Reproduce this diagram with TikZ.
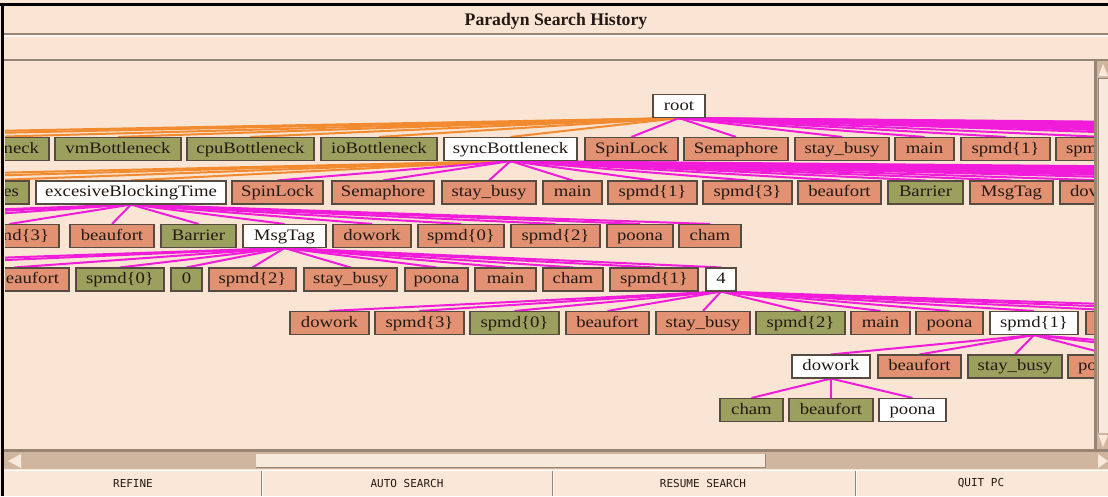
\documentclass[tikz,border=0pt]{standalone}
\usepackage{fontspec}
\setmainfont{Liberation Serif}
\newfontfamily\labelfont[FakeStretch=1.17]{Liberation Serif}
\newfontfamily\buttonfont{DejaVu Sans Mono}

\pgfdeclarelayer{backdrop}
\pgfdeclarelayer{links}
\pgfsetlayers{backdrop,links,main}

\definecolor{panel}{RGB}{250,229,212}
\definecolor{buttonface}{RGB}{250,231,216}
\definecolor{trough}{RGB}{208,182,158}
\definecolor{slider}{RGB}{248,233,221}
\definecolor{bevel}{RGB}{150,132,116}
\definecolor{salmon}{RGB}{226,146,114}
\definecolor{olive}{RGB}{155,160,95}
\definecolor{boxline}{RGB}{85,75,65}
\definecolor{ink}{RGB}{35,25,20}
\definecolor{whyline}{RGB}{242,138,48}
\definecolor{whereline}{RGB}{240,28,218}

\tikzset{
  x=1pt, y=-1pt,
  shnode/.style={draw=boxline, line width=1.1pt, minimum height=23pt, inner sep=0pt,
    text height=11.5pt, text depth=3.5pt, text=ink,
    font=\labelfont\fontsize{16}{18}\selectfont},
  falsebox/.style={shnode, fill=olive},
  openbox/.style={shnode, fill=salmon},
  truebox/.style={shnode, fill=white},
  where/.style={draw=whereline, line width=2pt},
  why/.style={draw=whyline, line width=2pt},
  btnlabel/.style={font=\buttonfont\fontsize{11}{13}\selectfont, text=ink, inner sep=0pt},
}

% node from left edge x1 to right edge x2, centred on row y
\newcommand\hnode[6]{\node[#2, minimum width={(#4)-(#3)}] (#1) at ({((#3)+(#4))/2},#5) {#6};}

\begin{document}
\begin{tikzpicture}
\useasboundingbox (0,0) rectangle (1108,496);

\begin{pgfonlayer}{backdrop}
  \fill[panel] (0,0) rectangle (1108,496);
\end{pgfonlayer}

% ---------------- search history graph ----------------
\begin{scope}
\clip (5,62) rectangle (1095,449);

\hnode{root}{truebox}{653}{705}{106}{root}

% row 1
\node[falsebox, minimum width=119pt, text width=99pt, align=right] (r1neck) at (-10.5,149) {neck};
\hnode{r1vm}{falsebox}{55}{181}{149}{vmBottleneck}
\hnode{r1cpu}{falsebox}{187}{314}{149}{cpuBottleneck}
\hnode{r1io}{falsebox}{321}{437}{149}{ioBottleneck}
\hnode{r1sync}{truebox}{444}{577}{149}{syncBottleneck}
\hnode{r1spin}{openbox}{585}{678}{149}{SpinLock}
\hnode{r1sema}{openbox}{684}{788}{149}{Semaphore}
\hnode{r1stay}{openbox}{795}{889}{149}{stay\_busy}
\hnode{r1main}{openbox}{895}{954}{149}{main}
\hnode{r1spmd}{openbox}{961}{1050}{149}{spmd\{1\}}
\node[openbox, minimum width=94pt, text width=74pt, align=left] (r1spm) at (1103,149) {spm};

% row 2
\node[falsebox, minimum width=89pt, text width=69pt, align=right] (r2es) at (-15.5,192.5) {es};
\hnode{r2ebt}{truebox}{36}{226}{192.5}{excesiveBlockingTime}
\hnode{r2spin}{openbox}{232}{323}{192.5}{SpinLock}
\hnode{r2sema}{openbox}{332}{434}{192.5}{Semaphore}
\hnode{r2stay}{openbox}{442}{536}{192.5}{stay\_busy}
\hnode{r2main}{openbox}{543}{602}{192.5}{main}
\hnode{r2spmdA}{openbox}{608}{697}{192.5}{spmd\{1\}}
\hnode{r2spmdC}{openbox}{703}{792}{192.5}{spmd\{3\}}
\hnode{r2beau}{openbox}{798}{881}{192.5}{beaufort}
\hnode{r2barr}{falsebox}{888}{963}{192.5}{Barrier}
\hnode{r2msg}{openbox}{970}{1053}{192.5}{MsgTag}
\node[openbox, minimum width=90pt, text width=70pt, align=left] (r2dov) at (1105,192.5) {dov};

% row 3
\node[openbox, minimum width=99pt, text width=79pt, align=right] (r3md) at (9.5,236) {md\{3\}};
\hnode{r3beau}{openbox}{70}{154}{236}{beaufort}
\hnode{r3barr}{falsebox}{161}{236}{236}{Barrier}
\hnode{r3msg}{truebox}{243}{326}{236}{MsgTag}
\hnode{r3dowork}{openbox}{333}{411}{236}{dowork}
\hnode{r3spmdO}{openbox}{418}{504}{236}{spmd\{0\}}
\hnode{r3spmdB}{openbox}{511}{600}{236}{spmd\{2\}}
\hnode{r3poona}{openbox}{607}{673}{236}{poona}
\hnode{r3cham}{openbox}{679}{741}{236}{cham}

% row 4
\node[openbox, minimum width=109pt, text width=89pt, align=right] (r4beau) at (14.5,279.5) {eaufort};
\hnode{r4spmdO}{falsebox}{76}{164}{279.5}{spmd\{0\}}
\hnode{r4zero}{falsebox}{171}{202}{279.5}{0}
\hnode{r4spmdB}{openbox}{209}{296}{279.5}{spmd\{2\}}
\hnode{r4stay}{openbox}{304}{397}{279.5}{stay\_busy}
\hnode{r4poona}{openbox}{405}{468}{279.5}{poona}
\hnode{r4main}{openbox}{475}{536}{279.5}{main}
\hnode{r4cham}{openbox}{543}{603}{279.5}{cham}
\hnode{r4spmdA}{openbox}{610}{698}{279.5}{spmd\{1\}}
\hnode{r4four}{truebox}{706}{736}{279.5}{4}

% row 5
\hnode{r5dowork}{openbox}{290}{369}{323}{dowork}
\hnode{r5spmdC}{openbox}{375}{464}{323}{spmd\{3\}}
\hnode{r5spmdO}{falsebox}{470}{559}{323}{spmd\{0\}}
\hnode{r5beau}{openbox}{566}{649}{323}{beaufort}
\hnode{r5stay}{openbox}{656}{750}{323}{stay\_busy}
\hnode{r5spmdB}{falsebox}{756}{845}{323}{spmd\{2\}}
\hnode{r5main}{openbox}{851}{910}{323}{main}
\hnode{r5poona}{openbox}{916}{983}{323}{poona}
\hnode{r5spmdA}{truebox}{990}{1078}{323}{spmd\{1\}}
\hnode{r5more}{openbox}{1086}{1170}{323}{}

% row 6
\hnode{r6dowork}{truebox}{792}{870}{366.5}{dowork}
\hnode{r6beau}{openbox}{878}{961}{366.5}{beaufort}
\hnode{r6stay}{falsebox}{968}{1062}{366.5}{stay\_busy}
\node[openbox, minimum width=82pt, text width=62pt, align=left] (r6po) at (1109,366.5) {po};

% row 7
\hnode{r7cham}{falsebox}{720}{783}{410}{cham}
\hnode{r7beau}{falsebox}{789}{873}{410}{beaufort}
\hnode{r7poona}{truebox}{879}{946}{410}{poona}

% ends of refinements whose nodes lie outside the visible canvas
\foreach \n/\x in {1/-190,2/-330} \coordinate (rootL\n) at (\x,137);
\foreach \n/\x in {1/1245,2/1340,3/1450,4/1570,5/1700,6/1850,7/2020,8/2200,9/2400,10/2650,11/2900}
  \coordinate (rootR\n) at (\x,137);
\foreach \n/\x in {1/-200,2/-360} \coordinate (syncL\n) at (\x,181);
\foreach \n/\x in {1/1250,2/1360,3/1480,4/1620,5/1780,6/1960,7/2180,8/2450,9/2800}
  \coordinate (syncR\n) at (\x,181);
\foreach \n/\x in {1/-150,2/-270,3/-400} \coordinate (ebtL\n) at (\x,224);
\foreach \n/\x in {1/-180,2/-300} \coordinate (msgL\n) at (\x,268);
\foreach \n/\x in {1/1220,2/1320} \coordinate (fourR\n) at (\x,311);
\foreach \n/\x in {1/1200,2/1290} \coordinate (spmdR\n) at (\x,355);
\end{scope}

% ---------------- refinement links ----------------
\begin{pgfonlayer}{links}
\begin{scope}
\clip (5,62) rectangle (1095,449);
% why-axis refinements
\foreach \c in {r1neck.north,r1vm.north,r1cpu.north,r1io.north,r1sync.north,rootL1,rootL2}
  \draw[why] (root.south) -- (\c);
\foreach \c in {r2es.north,r2ebt.north,syncL1,syncL2}
  \draw[why] (r1sync.south) -- (\c);
% where-axis refinements
\foreach \c in {r1spin.north,r1sema.north,r1stay.north,r1main.north,r1spmd.north,r1spm.north,
    rootR1,rootR2,rootR3,rootR4,rootR5,rootR6,rootR7,rootR8,rootR9,rootR10,rootR11}
  \draw[where] (root.south) -- (\c);
\foreach \c in {r2spin.north,r2sema.north,r2stay.north,r2main.north,r2spmdA.north,r2spmdC.north,
    r2beau.north,r2barr.north,r2msg.north,r2dov.north,
    syncR1,syncR2,syncR3,syncR4,syncR5,syncR6,syncR7,syncR8,syncR9}
  \draw[where] (r1sync.south) -- (\c);
\foreach \c in {r3md.north,r3beau.north,r3barr.north,r3msg.north,r3dowork.north,r3spmdO.north,
    r3spmdB.north,r3poona.north,r3cham.north,ebtL1,ebtL2,ebtL3}
  \draw[where] (r2ebt.south) -- (\c);
\foreach \c in {r4beau.north,r4spmdO.north,r4zero.north,r4spmdB.north,r4stay.north,r4poona.north,
    r4main.north,r4cham.north,r4spmdA.north,r4four.north,msgL1,msgL2}
  \draw[where] (r3msg.south) -- (\c);
\foreach \c in {r5dowork.north,r5spmdC.north,r5spmdO.north,r5beau.north,r5stay.north,
    r5spmdB.north,r5main.north,r5poona.north,r5spmdA.north,r5more.north,fourR1,fourR2}
  \draw[where] (r4four.south) -- (\c);
\foreach \c in {r6dowork.north,r6beau.north,r6stay.north,r6po.north,spmdR1,spmdR2}
  \draw[where] (r5spmdA.south) -- (\c);
\foreach \c in {r7cham.north,r7beau.north,r7poona.north}
  \draw[where] (r6dowork.south) -- (\c);
\end{scope}
\end{pgfonlayer}

% ---------------- window frame ----------------
\fill[black] (0,3) rectangle (1108,6);
\fill[black] (1,3) rectangle (4,496);
\node[font=\bfseries\fontsize{17.7}{20}\selectfont, text=ink, inner sep=0pt] (title) at (556,21) {Paradyn Search History};
\fill[bevel] (4,33) rectangle (1108,35);
\fill[white!55!panel] (4,35) rectangle (1108,36.5);
\fill[bevel] (4,58.5) rectangle (1108,61);

% vertical scrollbar
\fill[trough] (1095,61) rectangle (1108,450);
\fill[bevel] (1094,61) rectangle (1096.5,450);
\fill[slider] (1098.5,78) rectangle (1108,433);
\draw[bevel, line width=0.8pt] (1098.5,433) -- (1098.5,78) -- (1108,78);
\fill[slider] (1103,64) -- (1098.5,76) -- (1108,76) -- cycle;
\fill[slider] (1098.5,435) -- (1108,435) -- (1103,447) -- cycle;

% horizontal scrollbar
\fill[bevel] (4,449) rectangle (1108,451.5);
\fill[trough] (4,451.5) rectangle (1108,469);
\fill[slider] (256,453.5) rectangle (765,467.5);
\draw[bevel, line width=0.8pt] (256,467.5) -- (765,467.5) -- (765,453.5);
\fill[slider] (8,461) -- (21,454) -- (21,468) -- cycle;
\fill[slider] (1108,461) -- (1098,454) -- (1098,468) -- cycle;

% command buttons
\fill[buttonface] (4,469.5) rectangle (1108,496);
\draw[white, line width=1pt] (4,470.5) -- (1108,470.5);
\foreach \x in {261,552,855} {
  \draw[bevel, line width=1pt] (\x,471) -- (\x,496);
  \draw[white, line width=1pt] ({\x+1},471) -- ({\x+1},496);
}
\node[btnlabel] (refine) at (133,483.5) {REFINE};
\node[btnlabel] (autosearch) at (407,483.5) {AUTO SEARCH};
\node[btnlabel] (resume) at (703,483.5) {RESUME SEARCH};
\node[btnlabel] (quit) at (981,483.5) {QUIT PC};
\end{tikzpicture}
\end{document}
